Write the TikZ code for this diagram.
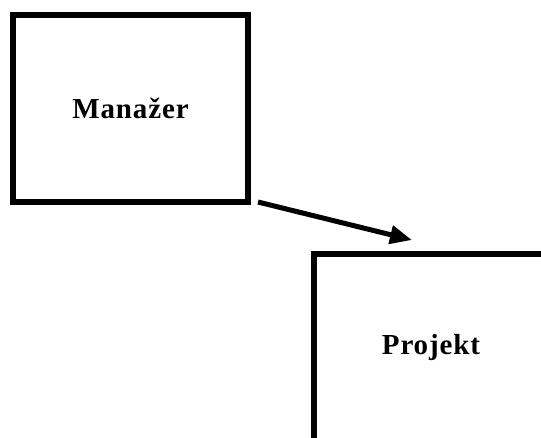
\documentclass[tikz,border=0pt]{standalone}
\usepackage{fontspec}
\setmainfont{Liberation Serif}
\usetikzlibrary{arrows.meta}
\newcommand{\boxtext}[1]{\raisebox{-4pt}{\addfontfeature{LetterSpace=3}#1}}
\begin{document}
\begin{tikzpicture}[x=1pt,y=-1pt,
  box/.style={draw, line width=6pt, minimum width=235pt, minimum height=187pt,
    font=\bfseries\fontsize{29}{34}\selectfont, inner sep=0pt, outer sep=0pt},
  conn/.style={line width=5pt, -{Triangle[length=22pt,width=18pt]}}]
\useasboundingbox (0,0) rectangle (541,437);
\clip (0,0) rectangle (541,437);
\node[box] (m) at (130.5,108.5) {\boxtext{Manažer}};
\node[box] (p) at (431,347.5) {\boxtext{Projekt}};
\draw[conn] ([xshift=10pt]m.south east) -- ([shift={(98.5,-14)}]p.north west);
\end{tikzpicture}
\end{document}
